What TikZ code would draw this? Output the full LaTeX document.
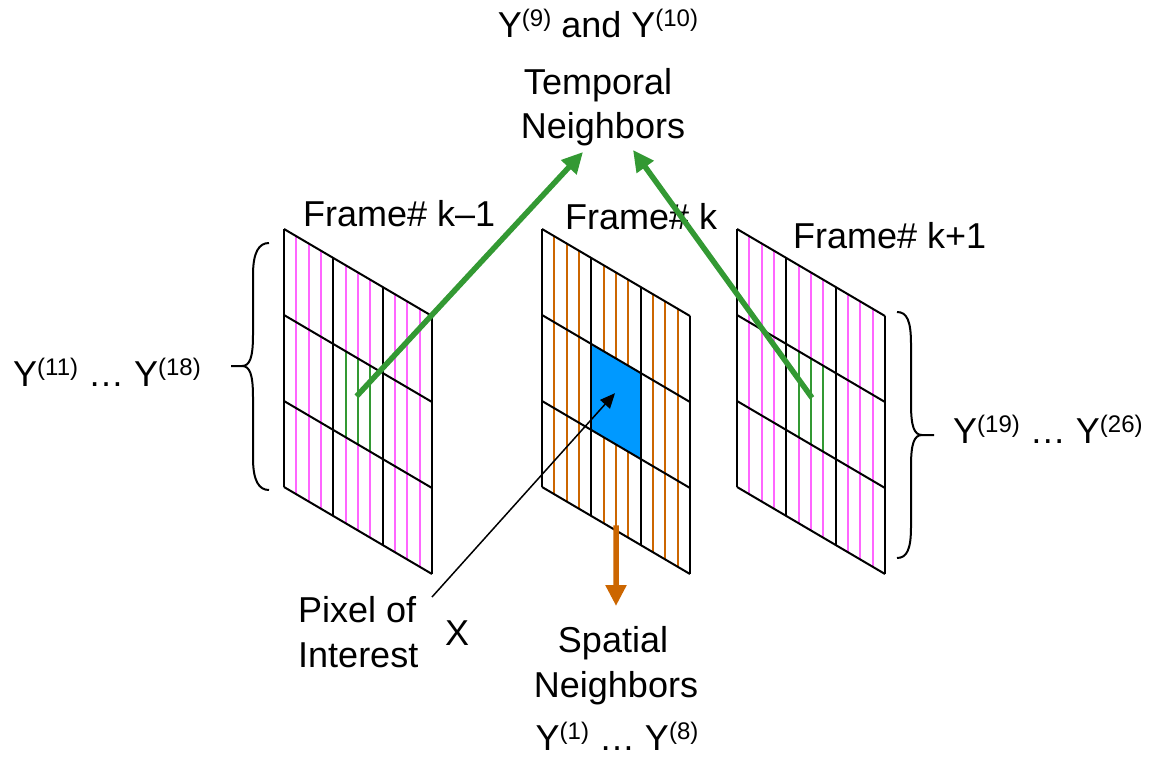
\documentclass[tikz,border=0pt]{standalone}
\usepackage{fontspec}
\setmainfont{Liberation Sans}
\usetikzlibrary{arrows.meta}
\definecolor{gridpink}{HTML}{FF66FF}
\definecolor{gridorange}{HTML}{CC6600}
\definecolor{tempgreen}{HTML}{339933}
\definecolor{pixblue}{HTML}{0099FF}

% raised, smaller index in parentheses
\newcommand\upidx[1]{\raisebox{11pt}{\fontsize{24}{24}\selectfont(#1)}}

\begin{document}
\begin{tikzpicture}[x=1pt,y=-1pt,
  lbl/.style={font=\fontsize{36}{43}\selectfont, inner sep=0pt},
  gridline/.style={line width=2pt, black},
  stripe/.style={line width=2pt},
  bigarrow/.style={line width=5.5pt, -{Triangle[length=21pt,width=20pt]}},
  pixarrow/.style={line width=1.5pt, black, -{Triangle[length=15pt,width=13pt]}},
  bracepath/.style={line width=2pt, black},
  framecoords/.style={x={(49.33pt,-29pt)}, y={(0pt,-86pt)}}
]
\useasboundingbox (0,0) rectangle (1158,757);

% frame k-1
\begin{scope}[shift={(284pt,-229pt)}, framecoords]
  \foreach \u in {0.25,0.5,0.75,1.25,1.5,1.75,2.25,2.5,2.75}
    \draw[stripe, gridpink] (\u,0) -- (\u,3);
  \foreach \u in {1.25,1.5,1.75}
    \draw[stripe, tempgreen] (\u,1) -- (\u,2);
  \foreach \u in {0,1,2,3} \draw[gridline] (\u,0) -- (\u,3);
  \foreach \v in {0,1,2,3} \draw[gridline] (0,\v) -- (3,\v);
  \coordinate (prevsrc) at (1.47,1.45);
\end{scope}

% frame k
\begin{scope}[shift={(542pt,-229pt)}, framecoords]
  \foreach \u in {0.25,0.5,0.75,1.25,1.5,1.75,2.25,2.5,2.75}
    \draw[stripe, gridorange] (\u,0) -- (\u,3);
  \fill[pixblue] (1,1) -- (2,1) -- (2,2) -- (1,2) -- cycle;
  \foreach \u in {0,1,2,3} \draw[gridline] (\u,0) -- (\u,3);
  \foreach \v in {0,1,2,3} \draw[gridline] (0,\v) -- (3,\v);
  \coordinate (pixtip) at (1.48,1.41);
  \coordinate (spatsrc) at (1.5,2.94);
\end{scope}

% frame k+1
\begin{scope}[shift={(737pt,-229pt)}, framecoords]
  \foreach \u in {0.25,0.5,0.75,1.25,1.5,1.75,2.25,2.5,2.75}
    \draw[stripe, gridpink] (\u,0) -- (\u,3);
  \foreach \u in {1.25,1.5,1.75}
    \draw[stripe, tempgreen] (\u,1) -- (\u,2);
  \foreach \u in {0,1,2,3} \draw[gridline] (\u,0) -- (\u,3);
  \foreach \v in {0,1,2,3} \draw[gridline] (0,\v) -- (3,\v);
  \coordinate (nextsrc) at (1.52,1.45);
\end{scope}

% labels
\node[lbl, anchor=base] (tempidx) at (598,38) {Y\upidx{9} and Y\upidx{10}};
\node[lbl, anchor=base] (temporal) at (598,95) {Temporal};
\node[lbl, anchor=base] (tneigh) at (603,138) {Neighbors};
\node[lbl, anchor=base west] (fprev) at (303,226) {Frame\# k–1};
\node[lbl, anchor=base west] (fcur) at (565,229) {Frame\# k};
\node[lbl, anchor=base west] (fnext) at (793,248) {Frame\# k+1};
\node[lbl, anchor=base west] (previdx) at (13,386) {Y\upidx{11} … Y\upidx{18}};
\node[lbl, anchor=base west] (nextidx) at (953,443) {Y\upidx{19} … Y\upidx{26}};
\node[lbl, anchor=base west] (pixof) at (298,622) {Pixel of};
\node[lbl, anchor=base west] (interest) at (298,667) {Interest};
\node[lbl, anchor=base west] (xlbl) at (445,645) {X};
\node[lbl, anchor=base] (spatial) at (613,652) {Spatial};
\node[lbl, anchor=base] (sneigh) at (616,697) {Neighbors};
\node[lbl, anchor=base] (spatidx) at (617,750) {Y\upidx{1} … Y\upidx{8}};

% arrow end points
\coordinate (prevtip) at (583,152);
\coordinate (nexttip) at (633,150);
\coordinate (pixfoot) at (432,597);
\coordinate (spattip) at (616,606);

% temporal arrows
\draw[bigarrow, tempgreen] (prevsrc) -- (prevtip);
\draw[bigarrow, tempgreen] (nextsrc) -- (nexttip);
% spatial arrow
\draw[bigarrow, gridorange] (spatsrc) -- (spattip);
% pixel pointer
\draw[pixarrow] (pixfoot) -- (pixtip);

% braces
\draw[bracepath] (269,243) .. controls (259,243) and (253,252) .. (253,275)
  -- (253,335) .. controls (253,357) and (250,366) .. (242,366) -- (231,366);
\draw[bracepath] (242,366) .. controls (250,366) and (253,375) .. (253,397)
  -- (253,458) .. controls (253,481) and (259,490) .. (269,490);
\draw[bracepath] (897,312) .. controls (907,312) and (911,321) .. (911,344)
  -- (911,404) .. controls (911,426) and (914,435) .. (922,435) -- (934,435);
\draw[bracepath] (922,435) .. controls (914,435) and (911,444) .. (911,466)
  -- (911,527) .. controls (911,549) and (907,558) .. (897,558);
\end{tikzpicture}
\end{document}
